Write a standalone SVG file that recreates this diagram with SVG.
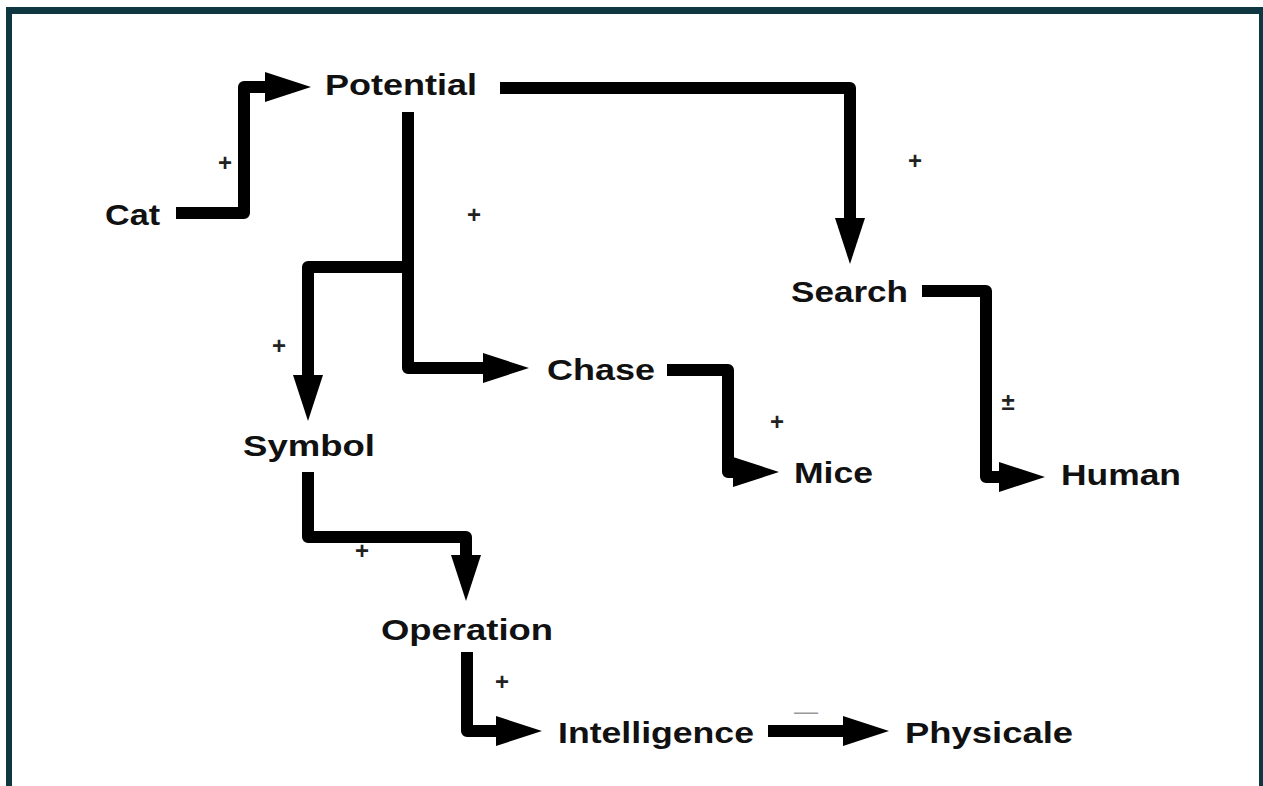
<svg xmlns="http://www.w3.org/2000/svg" width="1263" height="786" viewBox="0 0 1263 786">
<style>
.node text{font-family:"Liberation Sans",Arial,sans-serif;font-weight:bold;font-size:30px;fill:#111;}
.lbl{font-family:"Liberation Sans",Arial,sans-serif;font-size:24px;font-weight:bold;fill:#222;text-anchor:middle;}
.lbl.neg{fill:#999;font-weight:normal;}
.conn path{fill:none;stroke:#000;stroke-width:12;stroke-linejoin:round;stroke-linecap:butt;}
.frame{fill:#0f3741;}
</style>
<defs>
<marker id="ah" markerUnits="userSpaceOnUse" viewBox="0 -17 48 34" markerWidth="48" markerHeight="34" refX="2" refY="0" orient="auto">
<path d="M0,-15 L46,0 L0,15 Z" fill="#000"/>
</marker>
</defs>
<rect width="1263" height="786" fill="#fff"/>
<g id="frame">
<rect class="frame" x="6" y="7" width="1257" height="7"/>
<rect class="frame" x="6" y="7" width="6" height="779"/>
<rect class="frame" x="1259" y="7" width="4" height="779"/>
</g>
<g class="conn" id="connectors">
<path d="M176,213 H244 V87 H267" marker-end="url(#ah)"/>
<path d="M500,88 H850 V220" marker-end="url(#ah)"/>
<path d="M408,112 V368 H485" marker-end="url(#ah)"/>
<path d="M408,112 V267 H308 V377" marker-end="url(#ah)"/>
<path d="M667,370 H728 V472 H735" marker-end="url(#ah)"/>
<path d="M922,291 H986 V477 H1001" marker-end="url(#ah)"/>
<path d="M308,472 V537 H466 V557" marker-end="url(#ah)"/>
<path d="M467,652 V731 H498" marker-end="url(#ah)"/>
<path d="M768,731 H845" marker-end="url(#ah)"/>
</g>
<g id="labels">
<text class="lbl" x="225" y="171">+</text>
<text class="lbl" x="915" y="169">+</text>
<text class="lbl" x="474" y="223">+</text>
<text class="lbl" x="279" y="354">+</text>
<text class="lbl" x="777" y="430">+</text>
<text class="lbl" x="362" y="559">+</text>
<text class="lbl" x="502" y="690">+</text>
<text class="lbl" x="1008" y="410">±</text>
<text class="lbl neg" x="806" y="719">—</text>
</g>
<g class="node" id="n-cat"><text x="105" y="225" textLength="55" lengthAdjust="spacingAndGlyphs">Cat</text></g>
<g class="node" id="n-potential"><text x="325" y="95" textLength="152" lengthAdjust="spacingAndGlyphs">Potential</text></g>
<g class="node" id="n-search"><text x="791" y="302" textLength="117" lengthAdjust="spacingAndGlyphs">Search</text></g>
<g class="node" id="n-chase"><text x="547" y="380" textLength="108" lengthAdjust="spacingAndGlyphs">Chase</text></g>
<g class="node" id="n-mice"><text x="794" y="483" textLength="79" lengthAdjust="spacingAndGlyphs">Mice</text></g>
<g class="node" id="n-human"><text x="1061" y="485" textLength="120" lengthAdjust="spacingAndGlyphs">Human</text></g>
<g class="node" id="n-symbol"><text x="243" y="456" textLength="132" lengthAdjust="spacingAndGlyphs">Symbol</text></g>
<g class="node" id="n-operation"><text x="381" y="640" textLength="172" lengthAdjust="spacingAndGlyphs">Operation</text></g>
<g class="node" id="n-intelligence"><text x="558" y="743" textLength="196" lengthAdjust="spacingAndGlyphs">Intelligence</text></g>
<g class="node" id="n-physicale"><text x="905" y="743" textLength="168" lengthAdjust="spacingAndGlyphs">Physicale</text></g>
</svg>
